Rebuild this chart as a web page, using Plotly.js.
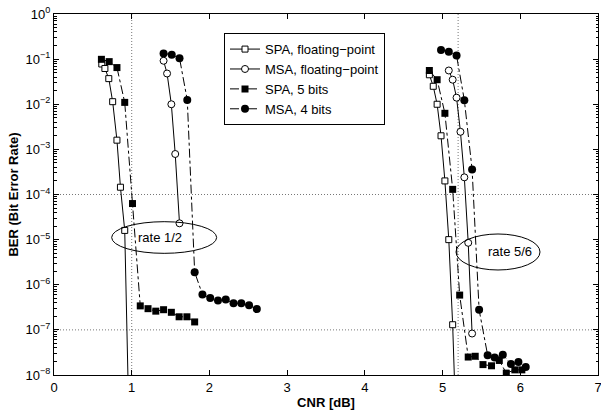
<!DOCTYPE html>
<html><head><meta charset="utf-8">
<script src="https://cdn.plot.ly/plotly-3.0.1.min.js"></script>
<style>html,body{margin:0;padding:0;background:#fff}#chart{width:601px;height:411px}</style>
</head><body><div id="chart"></div>
<script>
// ---- data (CNR in dB, BER) ; null separates the rate 1/2 and rate 5/6 groups
const spaFloatX = [0.615,0.655,0.705,0.755,0.81,0.855,0.91,0.96, null, 4.83,4.88,4.93,4.98,5.03,5.08,5.13,5.17];
const spaFloatY = [7.8e-2,6.2e-2,3.7e-2,1.14e-2,1.6e-3,1.45e-4,1.6e-5,2e-9, null, 4.5e-2,2.5e-2,1.0e-2,2.0e-3,2.0e-4,1.0e-5,1.3e-7,1e-9];

const msaFloatX = [1.41,1.455,1.51,1.56,1.615, null, 5.08,5.13,5.18,5.23,5.28,5.33,5.38];
const msaFloatY = [9.2e-2,4.8e-2,1.0e-2,7.9e-4,2.3e-5, null, 5.6e-2,3.5e-2,1.4e-2,2.45e-3,2.4e-4,8.5e-6,8.3e-8];

const spa5X = [0.61,0.71,0.81,0.91,1.01,1.11,1.21,1.31,1.41,1.51,1.61,1.71,1.81, null,
               4.83,4.93,5.03,5.13,5.22,5.33,5.42,5.52,5.63,5.73,5.82,5.93,6.02];
const spa5Y = [9.9e-2,8.8e-2,6.5e-2,1.1e-2,6.3e-5,3.4e-7,2.95e-7,2.6e-7,2.8e-7,2.45e-7,1.95e-7,1.95e-7,1.5e-7, null,
               5.6e-2,3.5e-2,6.3e-3,1.3e-4,5.9e-7,2.5e-8,2.6e-8,1.7e-8,1.6e-8,2.1e-8,1.1e-8,1.3e-8,1.3e-8];

const msa4X = [1.41,1.515,1.615,1.715,1.81,1.91,2.01,2.11,2.21,2.31,2.41,2.51,2.61, null,
               4.98,5.08,5.18,5.28,5.38,5.47,5.58,5.67,5.775,5.88,5.976,6.07];
const msa4Y = [0.134,0.125,0.105,1.24e-2,1.9e-6,6.1e-7,5.1e-7,4.5e-7,4.7e-7,3.9e-7,3.9e-7,3.5e-7,2.9e-7, null,
               0.16,0.145,0.12,1.23e-2,3.6e-4,2.8e-7,2.75e-8,2.45e-8,2.8e-8,1.75e-8,1.95e-8,1.5e-8];

// reference (dotted) lines
const refX = [1.0, 5.2];
const refY = [1e-4, 1e-7];

const names = ['SPA, floating\u2212point','MSA, floating\u2212point','SPA, 5 bits','MSA, 4 bits'];
const rateLabels = ['rate 1/2','rate 5/6'];

const yTickVals = [1e-8,1e-7,1e-6,1e-5,1e-4,1e-3,1e-2,1e-1,1];
const yTickText = ['\u22128','\u22127','\u22126','\u22125','\u22124','\u22123','\u22122','\u22121','0'].map(e => '10<sup>' + e + '</sup>');
const xTickVals = [0,1,2,3,4,5,6,7];

const minorY = [];
for (let n = -8; n < 0; n++) for (let k = 2; k <= 9; k++) minorY.push(k * Math.pow(10, n));

const traces = [];
const dotLine = {color:'#777', width:1, dash:'1px,2px'};
refX.forEach(v => traces.push({x:[v,v], y:[1e-8,1], mode:'lines', showlegend:false, hoverinfo:'skip', line:dotLine}));
refY.forEach(v => traces.push({x:[0,7], y:[v,v], mode:'lines', showlegend:false, hoverinfo:'skip', line:dotLine}));

traces.push({x:spaFloatX, y:spaFloatY, name:names[0], mode:'lines+markers',
  line:{color:'black', width:1}, marker:{symbol:'square', size:6, color:'white', line:{color:'black', width:1}}});
traces.push({x:msaFloatX, y:msaFloatY, name:names[1], mode:'lines+markers',
  line:{color:'black', width:1}, marker:{symbol:'circle', size:7, color:'white', line:{color:'black', width:1}}});
traces.push({x:spa5X, y:spa5Y, name:names[2], mode:'lines+markers',
  line:{color:'black', width:1, dash:'dashdot'}, marker:{symbol:'square', size:7, color:'black'}});
traces.push({x:msa4X, y:msa4Y, name:names[3], mode:'lines+markers',
  line:{color:'black', width:1, dash:'dashdot'}, marker:{symbol:'circle', size:8, color:'black'}});

const font = 'Liberation Sans, Arial, Helvetica, sans-serif';
const layout = {
  width:601, height:411,
  margin:{l:54, r:3, t:14, b:36},
  paper_bgcolor:'white', plot_bgcolor:'white',
  font:{family:font, size:13, color:'black'},
  showlegend:true,
  legend:{x:0.3125, y:0.947, xanchor:'left', yanchor:'top', bgcolor:'white',
    bordercolor:'black', borderwidth:1, font:{size:13}, tracegroupgap:0},
  xaxis:{range:[0,7], tickvals:xTickVals, ticks:'inside', ticklen:5, tickcolor:'black',
    ticklabeloverflow:'allow',
    showline:true, linecolor:'black', linewidth:1, mirror:'allticks', showgrid:false, zeroline:false,
    title:{text:'<b>CNR [dB]</b>', font:{size:13}, standoff:4}},
  yaxis:{type:'log', range:[-8,0], tickvals:yTickVals, ticktext:yTickText, ticks:'inside', ticklen:5,
    tickcolor:'black', showline:true, linecolor:'black', linewidth:1, mirror:'allticks',
    showgrid:false, zeroline:false, ticklabeloverflow:'allow',
    minor:{tickvals:minorY, ticks:'inside', ticklen:2.5, tickcolor:'black', showgrid:false},
    title:{text:'<b>BER (Bit Error Rate)</b>', font:{size:13}, standoff:4}},
  shapes:[
    {type:'circle', xref:'paper', yref:'paper', x0:0.106, x1:0.299, y0:0.337, y1:0.4247,
     line:{color:'black', width:1}},
    {type:'circle', xref:'paper', yref:'paper', x0:0.739, x1:0.8934, y0:0.2909, y1:0.3906,
     line:{color:'black', width:1}}
  ],
  annotations:[
    {xref:'paper', yref:'paper', x:0.1949, y:0.381, xanchor:'center', yanchor:'middle',
     text:rateLabels[0], showarrow:false, font:{size:13}},
    {xref:'paper', yref:'paper', x:0.838, y:0.341, xanchor:'center', yanchor:'middle',
     text:rateLabels[1], showarrow:false, font:{size:13}}
  ]
};

Plotly.newPlot('chart', traces, layout, {displayModeBar:false, staticPlot:true});
</script></body></html>
